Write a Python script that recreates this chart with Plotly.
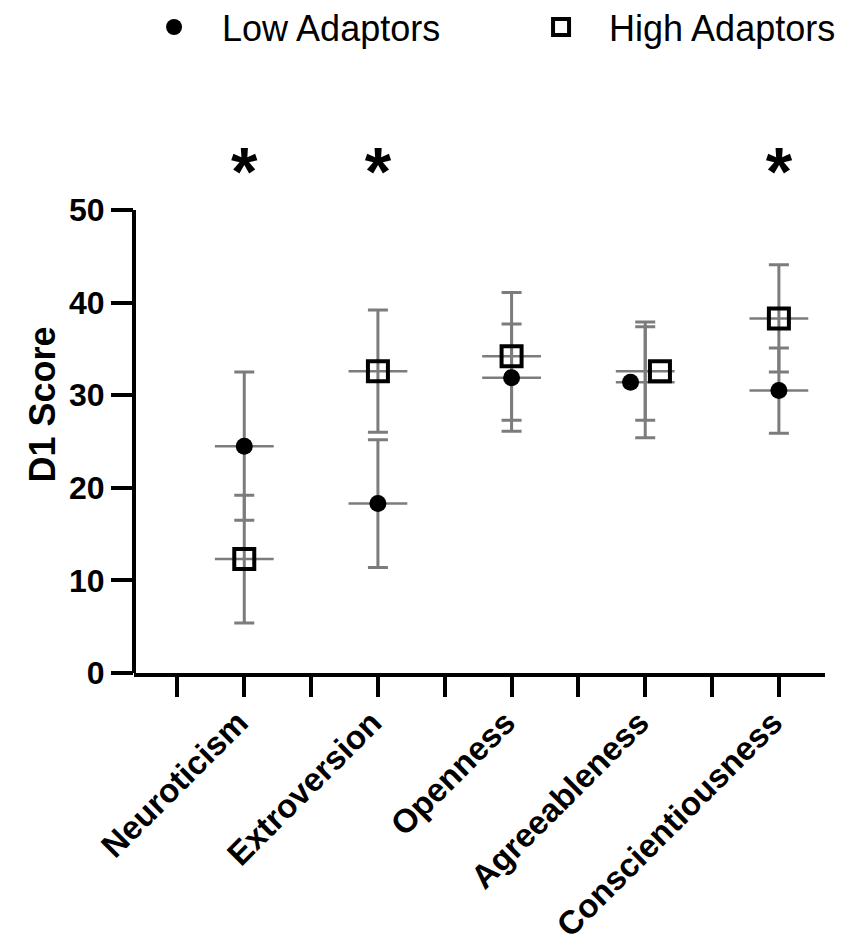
import plotly.graph_objects as go

# D1 personality scores by adaptor group (mean +/- SD)
traits = ['Neuroticism', 'Extroversion', 'Openness', 'Agreeableness', 'Conscientiousness']
low_mean = [24.5, 18.3, 31.9, 31.4, 30.5]
low_sd = [8.0, 6.9, 5.8, 6.0, 4.6]
high_mean = [12.3, 32.6, 34.2, 32.6, 38.3]
high_sd = [6.9, 6.6, 6.9, 5.3, 5.8]
significant = [True, True, False, False, True]
star_level = 53.5
y_ticks = [0, 10, 20, 30, 40, 50]

# small horizontal nudge where the two markers overlap (Agreeableness)
low_nudge = [0, 0, 0, -0.11, 0]
high_nudge = [0, 0, 0, 0.11, 0]

xpos = list(range(1, len(traits) + 1))
grey = '#7c7c7c'
font_family = 'Arial, Liberation Sans, sans-serif'

fig = go.Figure()

# error bars + mean lines (centred on the category)
for means, sds in [(low_mean, low_sd), (high_mean, high_sd)]:
    fig.add_trace(go.Scatter(
        x=xpos, y=means, mode='markers', showlegend=False, hoverinfo='skip',
        marker=dict(symbol='line-ew', size=42, line=dict(color=grey, width=2.5)),
        error_y=dict(type='data', array=sds, visible=True, color=grey, thickness=3, width=10)))

fig.add_trace(go.Scatter(
    x=[p + d for p, d in zip(xpos, low_nudge)], y=low_mean, mode='markers',
    name='Low Adaptors',
    marker=dict(symbol='circle', size=17, color='black')))
fig.add_trace(go.Scatter(
    x=[p + d for p, d in zip(xpos, high_nudge)], y=high_mean, mode='markers',
    name='High Adaptors',
    marker=dict(symbol='square-open', size=20, color='black', line=dict(width=4))))

# significance stars above the data
star_x = [p for p, sig in zip(xpos, significant) if sig]
fig.add_trace(go.Scatter(
    x=star_x, y=[star_level] * len(star_x), mode='text', text=['*'] * len(star_x),
    textposition='middle center', showlegend=False, hoverinfo='skip',
    textfont=dict(family=font_family, size=68, color='black', weight='bold')))

# y axis line only runs up to the top tick
fig.add_shape(type='line', xref='paper', yref='y', x0=0, x1=0, y0=y_ticks[0], y1=y_ticks[-1],
              line=dict(color='black', width=4))

fig.update_layout(
    width=843, height=944,
    margin=dict(l=126, r=26, t=128, b=279, autoexpand=False),
    plot_bgcolor='white', paper_bgcolor='white',
    font=dict(family=font_family, color='black'),
    showlegend=True,
    legend=dict(orientation='h', x=-0.0115, y=1.2586, xref='paper', yref='paper',
                xanchor='left', yanchor='top',
                font=dict(size=36, family=font_family), itemwidth=86, entrywidth=286),
)

fig.update_xaxes(
    range=[0.175, 5.345], showgrid=False, zeroline=False,
    showline=True, linecolor='black', linewidth=4,
    tickmode='array', tickvals=xpos, ticktext=traits, tickangle=-45,
    ticks='outside', ticklen=20, tickwidth=4, tickcolor='black',
    ticklabelshift=-6, ticklabelstandoff=-7,
    tickfont=dict(size=33, weight='bold', family=font_family),
    minor=dict(tickmode='array', tickvals=[p - 0.5 for p in xpos],
               ticks='outside', ticklen=20, tickwidth=4, tickcolor='black'),
)
fig.update_yaxes(
    range=[0, 58], showgrid=False, zeroline=False, showline=False,
    tickvals=y_ticks,
    ticks='outside', ticklen=22, tickwidth=4, tickcolor='black',
    tickfont=dict(size=32, weight='bold', family=font_family),
    title=dict(text='D1 Score', font=dict(size=36, weight='bold', family=font_family), standoff=2),
)

fig.write_html('out.html')
